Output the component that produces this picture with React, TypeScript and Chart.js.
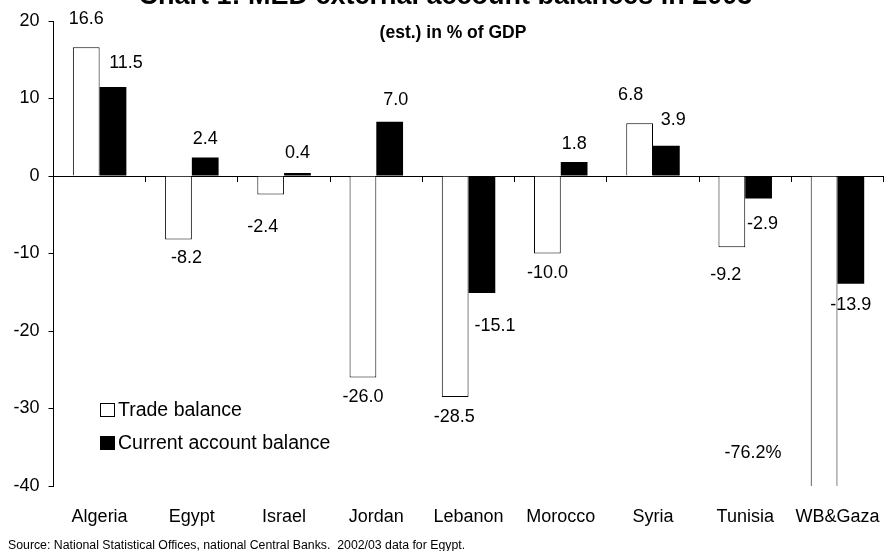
import { useEffect, useRef } from "react";
import { Chart, registerables } from "chart.js";

Chart.register(...registerables);

// ---- data ----
const countries = ["Algeria", "Egypt", "Israel", "Jordan", "Lebanon", "Morocco", "Syria", "Tunisia", "WB&Gaza"];
const tradeBalance = [16.6, -8.2, -2.4, -26.0, -28.5, -10.0, 6.8, -9.2, -76.2];
const currentAccountBalance = [11.5, 2.4, 0.4, 7.0, -15.1, 1.8, 3.9, -2.9, -13.9];
const yMin = -40;
const yMax = 20;
const yStep = 10;

const seriesNames = ["Trade balance", "Current account balance"];
const titleText = "Chart 1: MED external account balances in 2003";
const subtitleText = "(est.) in % of GDP";
const sourceText = "Source: National Statistical Offices, national Central Banks.  2002/03 data for Egypt.";

// value-label nudges [dx, dy] in px, measured from the end of each bar
const tradeLabelNudge = [
  [0, -28], [8, 18], [-8, 32], [0, 20], [-1, 20], [0, 20], [-9, -28], [-6, 28], [-71, -33],
];
const currentLabelNudge = [
  [13, -24], [0, -18], [0, -20], [6, -22], [13, 33], [0, -18], [7, -26], [4, 26], [0, 21],
];

const FONT = "Arial, 'Liberation Sans', sans-serif";

const annotations = {
  id: "annotations",
  afterDatasetsDraw(chart: any) {
    const ctx: CanvasRenderingContext2D = chart.ctx;
    const area = chart.chartArea;
    ctx.save();
    ctx.fillStyle = "#000";
    ctx.textAlign = "center";
    ctx.textBaseline = "middle";
    ctx.font = `18px ${FONT}`;
    const nudges = [tradeLabelNudge, currentLabelNudge];
    chart.data.datasets.forEach((ds: any, di: number) => {
      const meta = chart.getDatasetMeta(di);
      meta.data.forEach((el: any, i: number) => {
        const v = ds.data[i] as number;
        const clipped = v < yMin || v > yMax;
        const yEnd = Math.min(Math.max(el.y, area.top), area.bottom);
        const [dx, dy] = nudges[di][i];
        ctx.fillText(v.toFixed(1) + (clipped ? "%" : ""), el.x + dx, yEnd + dy);
      });
    });
    ctx.restore();
  },
  afterDraw(chart: any) {
    const ctx: CanvasRenderingContext2D = chart.ctx;
    ctx.save();
    ctx.fillStyle = "#000";

    // title (runs off the top edge)
    ctx.font = `bold 27px ${FONT}`;
    ctx.textAlign = "left";
    ctx.textBaseline = "alphabetic";
    const lead = ctx.measureText("Chart 1: ").width;
    ctx.fillText(titleText, 248 - lead, 4);

    // subtitle
    ctx.font = `bold 17.5px ${FONT}`;
    ctx.textAlign = "center";
    ctx.textBaseline = "middle";
    ctx.fillText(subtitleText, 453, 33);

    // legend inside the plot
    const rows = [410, 443];
    ctx.font = `19.5px ${FONT}`;
    ctx.textAlign = "left";
    chart.data.datasets.forEach((ds: any, di: number) => {
      const y = rows[di];
      ctx.fillStyle = ds.backgroundColor;
      ctx.fillRect(100, y - 7, 15, 14);
      ctx.strokeStyle = "#000";
      ctx.lineWidth = 1;
      ctx.strokeRect(100.5, y - 6.5, 14, 13);
      ctx.fillStyle = "#000";
      ctx.fillText(ds.label, 118, y + 1);
    });

    // source note
    ctx.font = `12.3px ${FONT}`;
    ctx.textBaseline = "alphabetic";
    ctx.fillText(sourceText, 8, 549);
    ctx.restore();
  },
};

export default function App() {
  const ref = useRef<HTMLCanvasElement>(null);

  useEffect(() => {
    const chart = new Chart(ref.current!, {
      type: "bar",
      data: {
        labels: countries,
        datasets: [
          {
            label: seriesNames[0],
            data: tradeBalance,
            backgroundColor: "#ffffff",
            borderColor: "#000000",
            borderWidth: 1,
            xAxisID: "x",
            yAxisID: "y",
            categoryPercentage: 0.58,
            barPercentage: 1,
          },
          {
            label: seriesNames[1],
            data: currentAccountBalance,
            backgroundColor: "#000000",
            borderWidth: 0,
            xAxisID: "x",
            yAxisID: "y",
            categoryPercentage: 0.58,
            barPercentage: 1,
          },
        ],
      },
      options: {
        responsive: false,
        animation: false,
        devicePixelRatio: 1,
        layout: { padding: { top: 21, right: 9.5, bottom: 0, left: 0.5 } },
        plugins: {
          legend: { display: false },
          title: { display: false },
          tooltip: { enabled: false },
        },
        scales: {
          x: {
            type: "category",
            position: "bottom",
            offset: true,
            grid: { display: false, drawTicks: false },
            border: { display: false },
            ticks: {
              color: "#000",
              font: { family: FONT, size: 18 },
              padding: 20,
              maxRotation: 0,
              autoSkip: false,
            },
            afterFit(scale: any) {
              scale.height = 65;
            },
          },
          x2: {
            type: "category",
            axis: "x",
            position: { y: 0 },
            offset: true,
            z: 1,
            grid: {
              offset: true,
              drawOnChartArea: false,
              drawTicks: true,
              tickLength: 5,
              color: "#000",
              lineWidth: 1,
            },
            border: { display: true, color: "#000", width: 1 },
            ticks: { display: false },
          },
          y: {
            min: yMin,
            max: yMax,
            ticks: {
              stepSize: yStep,
              color: "#000",
              font: { family: FONT, size: 18 },
              padding: 9,
            },
            grid: {
              drawOnChartArea: false,
              drawTicks: true,
              tickLength: 5,
              color: "#000",
            },
            border: { display: true, color: "#000", width: 1 },
            afterFit(scale: any) {
              scale.width = 53;
            },
          },
        } as any,
      },
      plugins: [annotations],
    });
    return () => chart.destroy();
  }, []);

  return (
    <div
      style={{
        position: "fixed",
        left: 0,
        top: 0,
        width: 885,
        height: 551,
        overflow: "hidden",
        background: "#fff",
      }}
    >
      <canvas ref={ref} width={900} height={551} style={{ display: "block", width: 900, height: 551 }} />
    </div>
  );
}
